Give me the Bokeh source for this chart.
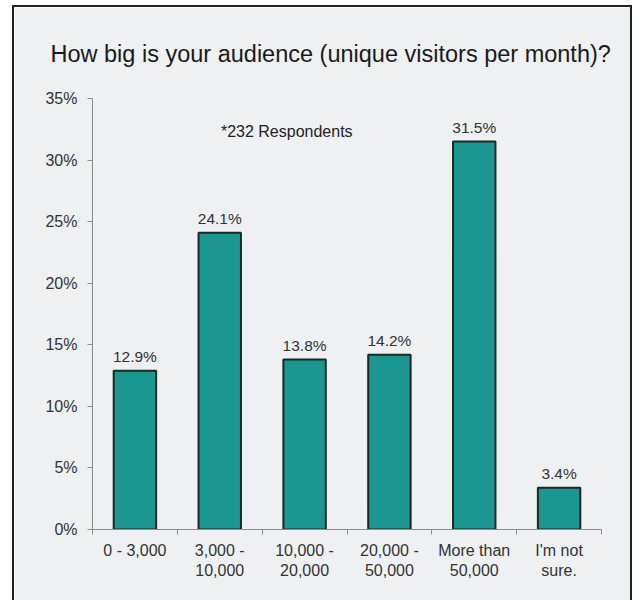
from bokeh.plotting import figure
from bokeh.models import ColumnDataSource, LabelSet, Label, FixedTicker, Range1d, Title
from bokeh.core.properties import value
from bokeh.embed import file_html
from bokeh.resources import INLINE

categories = ["0 - 3,000", "3,000 -\n10,000", "10,000 -\n20,000", "20,000 -\n50,000", "More than\n50,000", "I'm not\nsure."]
values = [12.9, 24.1, 13.8, 14.2, 31.5, 3.4]
value_labels = ["12.9%", "24.1%", "13.8%", "14.2%", "31.5%", "3.4%"]
y_ticks = [0, 5, 10, 15, 20, 25, 30, 35]
title_text = "How big is your audience (unique visitors per month)?"
note_text = "*232 Respondents"

BG = "#eef0f2"
BAR = "#1b9690"
FONT = "Liberation Sans"

xs = [i + 0.5 for i in range(len(categories))]
src = ColumnDataSource(dict(x=xs, top=values, lab=value_labels))

p = figure(width=616, height=593, output_backend="svg", toolbar_location=None,
           x_range=Range1d(0, len(categories)), y_range=Range1d(0, 35),
           min_border_left=78, min_border_right=29, min_border_top=90, min_border_bottom=71)
p.styles = {"box-shadow": "0 0 0 2px #222222",
            "margin-left": "14px", "margin-top": "7px"}
p.background_fill_color = BG
p.border_fill_color = BG
p.outline_line_color = None
p.xgrid.grid_line_color = None
p.ygrid.grid_line_color = None

p.vbar(x="x", top="top", width=0.5, bottom=0, source=src,
       fill_color=BAR, line_color="#1e2626", line_width=2)

labels = LabelSet(x="x", y="top", text="lab", source=src, text_align="center",
                  text_baseline="alphabetic", y_offset=9, text_font=value(FONT),
                  text_font_size="15.5px", text_color="#333333")
p.add_layout(labels)

note = Label(x=2.29, y=32.3, text=note_text, text_align="center", text_baseline="middle",
             text_font=FONT, text_font_size="16px", text_color="#222222")
p.add_layout(note)

t = Title(text=title_text, align="left", text_font=FONT, text_font_size="23.5px",
          text_font_style="normal", text_color="#1a1a1a", standoff=63, offset=-42)
p.add_layout(t, "above")

# x axis: labels at category centres, ticks at boundaries
xa = p.below[0]
xa.ticker = FixedTicker(ticks=xs, minor_ticks=list(range(len(categories) + 1)))
xa.major_label_overrides = {x: c for x, c in zip(xs, categories)}
xa.major_tick_line_color = None
xa.major_tick_out = 0
xa.minor_tick_out = 5
xa.minor_tick_in = 0
xa.minor_tick_line_color = "#8c8c8c"
xa.axis_line_color = "#8c8c8c"
xa.major_label_text_font = FONT
xa.major_label_text_font_size = "16px"
xa.major_label_text_color = "#333333"
xa.major_label_standoff = 7

ya = p.left[0]
ya.ticker = FixedTicker(ticks=y_ticks, minor_ticks=[])
ya.major_label_overrides = {v: f"{v}%" for v in y_ticks}
ya.axis_line_color = "#8c8c8c"
ya.major_tick_line_color = "#8c8c8c"
ya.major_tick_out = 5
ya.major_tick_in = 0
ya.minor_tick_line_color = None
ya.major_label_text_font = FONT
ya.major_label_text_font_size = "16px"
ya.major_label_text_color = "#333333"
ya.major_label_standoff = 10

open("out.html", "w").write(file_html(p, INLINE))
